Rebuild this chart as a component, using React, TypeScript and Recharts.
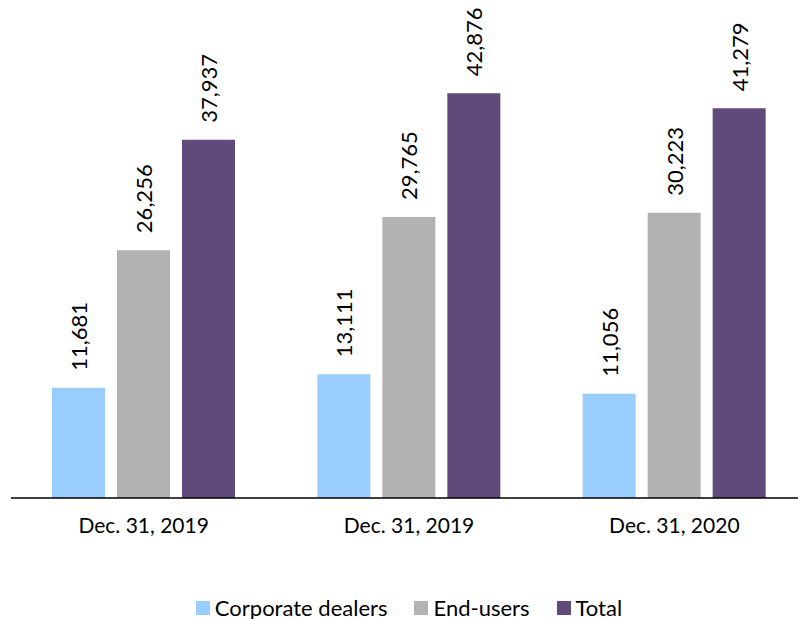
import { Bar, BarChart, XAxis, YAxis, Legend, LabelList } from "recharts";

const categories = ["Dec. 31, 2019", "Dec. 31, 2019", "Dec. 31, 2020"];
const corporateDealers = [11681, 13111, 11056];
const endUsers = [26256, 29765, 30223];
const total = [37937, 42876, 41279];

const SERIES = [
  { key: "corporate", name: "Corporate dealers", color: "#99CCFF", values: corporateDealers },
  { key: "endUsers", name: "End-users", color: "#B2B2B2", values: endUsers },
  { key: "total", name: "Total", color: "#604A7B", values: total },
];

const FONT = "Lato, 'Open Sans', sans-serif";

const data = categories.map((c, i) => ({
  id: i,
  name: c,
  corporate: corporateDealers[i],
  endUsers: endUsers[i],
  total: total[i],
}));

const fmt = (v: number) => v.toLocaleString("en-US");

const RotLabel = (props: any) => {
  const { x, y, width, value } = props;
  const cx = x + width / 2;
  const ty = y - 17;
  return (
    <text
      x={cx}
      y={ty}
      transform={`rotate(-90 ${cx} ${ty})`}
      textAnchor="start"
      dominantBaseline="central"
      fontSize={22}
      fontFamily={FONT}
      fill="#000"
    >
      {fmt(value)}
    </text>
  );
};

const LegendBox = () => (
  <div
    style={{
      display: "flex",
      justifyContent: "center",
      gap: 27,
      paddingTop: 16,
      lineHeight: "25px",
      fontFamily: FONT,
      fontSize: 22,
      color: "#000",
    }}
  >
    {SERIES.map((s) => (
      <div key={s.key} style={{ display: "flex", alignItems: "center" }}>
        <span style={{ width: 14, height: 14, background: s.color, marginRight: 5, display: "inline-block" }} />
        {s.name}
      </div>
    ))}
  </div>
);

export default function App() {
  return (
    <div style={{ position: "absolute", top: 0, left: 0, width: 798, height: 619, overflow: "hidden", background: "#fff" }}>
      <BarChart
        width={808}
        height={619}
        data={data}
        margin={{ top: 26, right: 1, left: 11, bottom: 0 }}
        barGap={12}
      >
        <XAxis
          dataKey="id"
          tickFormatter={(i: number) => categories[i]}
          height={81}
          tickLine={false}
          axisLine={{ stroke: "#000", strokeWidth: 1.5 }}
          tick={{ fill: "#000", fontSize: 21, fontFamily: FONT }}
          tickMargin={14}
        />
        <YAxis hide domain={[0, 50000]} />
        <Legend verticalAlign="bottom" height={40} content={<LegendBox />} wrapperStyle={{ bottom: 0 }} />
        {SERIES.map((s) => (
          <Bar key={s.key} dataKey={s.key} name={s.name} fill={s.color} barSize={53} isAnimationActive={false}>
            <LabelList dataKey={s.key} content={<RotLabel />} />
          </Bar>
        ))}
      </BarChart>
    </div>
  );
}
